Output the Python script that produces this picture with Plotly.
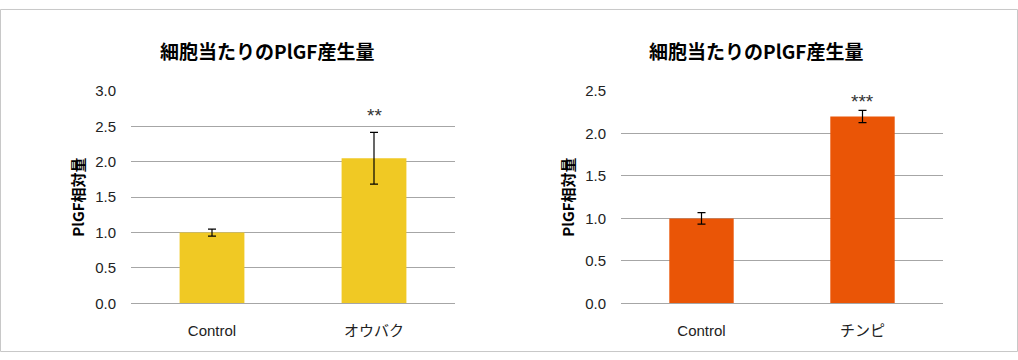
import plotly.graph_objects as go

title_text = "細胞当たりのPlGF産生量"
ytitle_text = "PlGF相対量"

cats_left = ["Control", "オウバク"]
vals_left = [1.0, 2.05]
err_left = [0.05, 0.365]
sig_left = "**"
sig_left_y = 2.66

cats_right = ["Control", "チンピ"]
vals_right = [1.0, 2.2]
err_right = [0.068, 0.072]
sig_right = "***"
sig_right_y = 2.37

yticks_left = [0.0, 0.5, 1.0, 1.5, 2.0, 2.5, 3.0]
yticks_right = [0.0, 0.5, 1.0, 1.5, 2.0, 2.5]

color_left = "#F0C924"
color_right = "#EA5506"

W, H = 1018, 360
FONT = "Liberation Sans, Arial, Noto Sans CJK JP, sans-serif"
CJK = "Noto Sans CJK JP, sans-serif"

fig = go.Figure()
fig.add_trace(go.Bar(x=cats_left, y=vals_left, marker_color=color_left, marker_line_width=0,
                     error_y=dict(type="data", array=err_left, color="#000", thickness=1.2, width=4),
                     xaxis="x", yaxis="y", showlegend=False))
fig.add_trace(go.Bar(x=cats_right, y=vals_right, marker_color=color_right, marker_line_width=0,
                     error_y=dict(type="data", array=err_right, color="#000", thickness=1.2, width=4),
                     xaxis="x2", yaxis="y2", showlegend=False))

def yd(px):
    return 1 - px / H

ydom = [yd(309), yd(86)]
axis_common = dict(showgrid=True, gridcolor="#A6A6A6", gridwidth=1, zeroline=False,
                   showline=False, ticks="", tickfont=dict(family=FONT, size=15, color="#222"))
fig.update_layout(
    width=W, height=H, autosize=False, margin=dict(l=0, r=0, t=0, b=0),
    paper_bgcolor="white", plot_bgcolor="white", bargap=0.6,
    xaxis=dict(domain=[131 / W, 455 / W], showline=True, linecolor="#A6A6A6", linewidth=1,
               ticks="", tickfont=dict(family=FONT + ", " + CJK, size=15, color="#222"),
               ticklabelstandoff=14, anchor="y"),
    yaxis=dict(domain=ydom, range=[0, 3.0], tickvals=yticks_left, tickformat=".1f",
               ticklabelstandoff=14, anchor="x",
               title=dict(text=ytitle_text, font=dict(family=CJK, size=15, color="#000", weight="bold"), standoff=6),
               **axis_common),
    xaxis2=dict(domain=[621 / W, 943 / W], showline=True, linecolor="#A6A6A6", linewidth=1,
                ticks="", tickfont=dict(family=FONT + ", " + CJK, size=15, color="#222"),
                ticklabelstandoff=14, anchor="y2"),
    yaxis2=dict(domain=ydom, range=[0, 2.5], tickvals=yticks_right, tickformat=".1f",
                ticklabelstandoff=14, anchor="x2",
                title=dict(text=ytitle_text, font=dict(family=CJK, size=15, color="#000", weight="bold"), standoff=6),
                **axis_common),
)

fig.add_annotation(x=cats_left[1], y=sig_left_y, xref="x", yref="y", text=sig_left, showarrow=False,
                   font=dict(family="Liberation Sans", size=19, color="#333"))
fig.add_annotation(x=cats_right[1], y=sig_right_y, xref="x2", yref="y2", text=sig_right, showarrow=False,
                   font=dict(family="Liberation Sans", size=19, color="#333"))

for cx in (267, 756):
    fig.add_annotation(x=cx / W, y=yd(44), xref="paper", yref="paper", text=title_text, showarrow=False,
                       font=dict(family=CJK, size=19, color="#000", weight="bold"), xanchor="center", yanchor="middle")

fig.add_shape(type="rect", xref="paper", yref="paper", x0=0.0005, y0=0.0014, x1=0.9995, y1=0.9986,
              line=dict(color="#C8C8C8", width=1), fillcolor="rgba(0,0,0,0)")

fig.write_html("out.html", config=dict(displayModeBar=False, responsive=False),
               post_script="document.body.style.margin='0';document.body.style.overflow='hidden';")
